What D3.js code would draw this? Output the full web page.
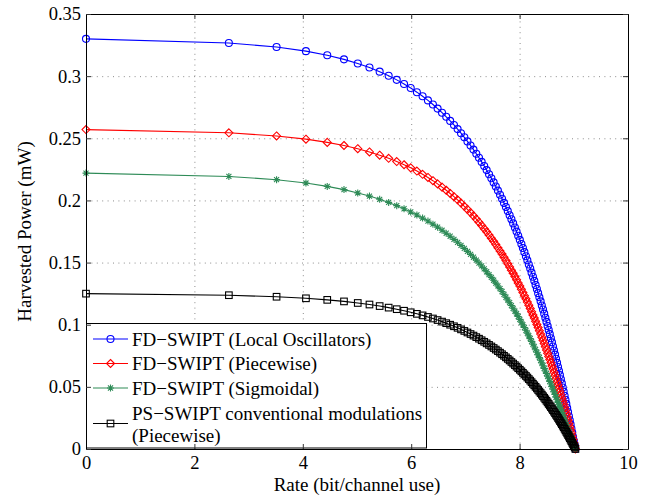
<!DOCTYPE html>
<html>
<head>
<meta charset="utf-8">
<script src="https://cdn.jsdelivr.net/npm/d3@7"></script>
<style>
    body { margin: 0; background: #fff; }
    svg { display: block; }
</style>
</head>
<body>
<div id="chart"></div>
<script>
// Rate axis samples (bit/channel use), shared by all four curves
const rate = [
    0, 2.636, 3.516, 4.058, 4.451, 4.760, 5.014, 5.230, 5.418, 5.584,
    5.733, 5.868, 5.991, 6.105, 6.210, 6.309, 6.401, 6.487, 6.569, 6.646,
    6.719, 6.789, 6.856, 6.919, 6.980, 7.038, 7.095, 7.149, 7.201, 7.251,
    7.300, 7.347, 7.392, 7.436, 7.479, 7.521, 7.561, 7.600, 7.639, 7.676,
    7.712, 7.748, 7.782, 7.816, 7.849, 7.881, 7.913, 7.944, 7.974, 8.004,
    8.033, 8.061, 8.089, 8.117, 8.143, 8.170, 8.196, 8.221, 8.246, 8.271,
    8.295, 8.319, 8.342, 8.365, 8.388, 8.410, 8.432, 8.454, 8.475, 8.496,
    8.517, 8.537, 8.557, 8.577, 8.597, 8.616, 8.635, 8.654, 8.672, 8.691,
    8.709, 8.727, 8.744, 8.762, 8.779, 8.796, 8.813, 8.830, 8.846, 8.862,
    8.878, 8.894, 8.910, 8.926, 8.941, 8.956, 8.971, 8.986, 9.001, 9.016,
    9.030
];

// Harvested power (mW) for each scheme
const powerLocalOsc = [
    0.3300, 0.3267, 0.3234, 0.3201, 0.3168, 0.3135, 0.3102, 0.3069, 0.3036, 0.3003,
    0.2970, 0.2937, 0.2904, 0.2871, 0.2838, 0.2805, 0.2772, 0.2739, 0.2706, 0.2673,
    0.2640, 0.2607, 0.2574, 0.2541, 0.2508, 0.2475, 0.2442, 0.2409, 0.2376, 0.2343,
    0.2310, 0.2277, 0.2244, 0.2211, 0.2178, 0.2145, 0.2112, 0.2079, 0.2046, 0.2013,
    0.1980, 0.1947, 0.1914, 0.1881, 0.1848, 0.1815, 0.1782, 0.1749, 0.1716, 0.1683,
    0.1650, 0.1617, 0.1584, 0.1551, 0.1518, 0.1485, 0.1452, 0.1419, 0.1386, 0.1353,
    0.1320, 0.1287, 0.1254, 0.1221, 0.1188, 0.1155, 0.1122, 0.1089, 0.1056, 0.1023,
    0.0990, 0.0957, 0.0924, 0.0891, 0.0858, 0.0825, 0.0792, 0.0759, 0.0726, 0.0693,
    0.0660, 0.0627, 0.0594, 0.0561, 0.0528, 0.0495, 0.0462, 0.0429, 0.0396, 0.0363,
    0.0330, 0.0297, 0.0264, 0.0231, 0.0198, 0.0165, 0.0132, 0.0099, 0.0066, 0.0033,
    0
];
const powerPiecewise = [
    0.2570, 0.2544, 0.2519, 0.2493, 0.2467, 0.2442, 0.2416, 0.2390, 0.2364, 0.2339,
    0.2313, 0.2287, 0.2262, 0.2236, 0.2210, 0.2185, 0.2159, 0.2133, 0.2107, 0.2082,
    0.2056, 0.2030, 0.2005, 0.1979, 0.1953, 0.1928, 0.1902, 0.1876, 0.1850, 0.1825,
    0.1799, 0.1773, 0.1748, 0.1722, 0.1696, 0.1671, 0.1645, 0.1619, 0.1593, 0.1568,
    0.1542, 0.1516, 0.1491, 0.1465, 0.1439, 0.1414, 0.1388, 0.1362, 0.1336, 0.1311,
    0.1285, 0.1259, 0.1234, 0.1208, 0.1182, 0.1157, 0.1131, 0.1105, 0.1079, 0.1054,
    0.1028, 0.1002, 0.0977, 0.0951, 0.0925, 0.0900, 0.0874, 0.0848, 0.0822, 0.0797,
    0.0771, 0.0745, 0.0720, 0.0694, 0.0668, 0.0643, 0.0617, 0.0591, 0.0565, 0.0540,
    0.0514, 0.0488, 0.0463, 0.0437, 0.0411, 0.0386, 0.0360, 0.0334, 0.0308, 0.0283,
    0.0257, 0.0231, 0.0206, 0.0180, 0.0154, 0.0129, 0.0103, 0.0077, 0.0051, 0.0026,
    0
];
const powerSigmoid = [
    0.2220, 0.2193, 0.2167, 0.2140, 0.2113, 0.2087, 0.2060, 0.2035, 0.2009, 0.1984,
    0.1958, 0.1933, 0.1907, 0.1883, 0.1858, 0.1834, 0.1809, 0.1785, 0.1760, 0.1736,
    0.1712, 0.1687, 0.1663, 0.1638, 0.1614, 0.1590, 0.1566, 0.1543, 0.1520, 0.1496,
    0.1473, 0.1450, 0.1426, 0.1403, 0.1381, 0.1358, 0.1335, 0.1312, 0.1290, 0.1267,
    0.1244, 0.1221, 0.1199, 0.1177, 0.1154, 0.1132, 0.1110, 0.1088, 0.1066, 0.1043,
    0.1021, 0.0999, 0.0977, 0.0955, 0.0932, 0.0910, 0.0888, 0.0866, 0.0844, 0.0821,
    0.0799, 0.0778, 0.0757, 0.0735, 0.0714, 0.0693, 0.0670, 0.0649, 0.0628, 0.0607,
    0.0586, 0.0565, 0.0544, 0.0523, 0.0502, 0.0481, 0.0460, 0.0438, 0.0417, 0.0396,
    0.0375, 0.0355, 0.0335, 0.0315, 0.0295, 0.0275, 0.0255, 0.0235, 0.0215, 0.0195,
    0.0175, 0.0158, 0.0140, 0.0122, 0.0104, 0.0087, 0.0069, 0.0051, 0.0033, 0.0017,
    0
];
const powerConventional = [
    0.12500, 0.12375, 0.12250, 0.12125, 0.12000, 0.11875, 0.11750, 0.11625, 0.11500, 0.11375,
    0.11250, 0.11125, 0.11000, 0.10875, 0.10750, 0.10625, 0.10500, 0.10375, 0.10250, 0.10125,
    0.10000, 0.09875, 0.09750, 0.09625, 0.09500, 0.09375, 0.09250, 0.09125, 0.09000, 0.08875,
    0.08750, 0.08625, 0.08500, 0.08375, 0.08250, 0.08125, 0.08000, 0.07875, 0.07750, 0.07625,
    0.07500, 0.07375, 0.07250, 0.07125, 0.07000, 0.06875, 0.06750, 0.06625, 0.06500, 0.06375,
    0.06250, 0.06125, 0.06000, 0.05875, 0.05750, 0.05625, 0.05500, 0.05375, 0.05250, 0.05125,
    0.05000, 0.04875, 0.04750, 0.04625, 0.04500, 0.04375, 0.04250, 0.04125, 0.04000, 0.03875,
    0.03750, 0.03625, 0.03500, 0.03375, 0.03250, 0.03125, 0.03000, 0.02875, 0.02750, 0.02625,
    0.02500, 0.02375, 0.02250, 0.02125, 0.02000, 0.01875, 0.01750, 0.01625, 0.01500, 0.01375,
    0.01250, 0.01125, 0.01000, 0.00875, 0.00750, 0.00625, 0.00500, 0.00375, 0.00250, 0.00125,
    0
];

const seriesLabels = [
    ["FD\u2212SWIPT (Local Oscillators)"],
    ["FD\u2212SWIPT (Piecewise)"],
    ["FD\u2212SWIPT (Sigmoidal)"],
    ["PS\u2212SWIPT conventional modulations", "(Piecewise)"]
];
const seriesColors = ["#0000ff", "#ff0000", "#2e8b57", "#000000"];
const seriesMarkers = ["circle", "diamond", "asterisk", "square"];
const seriesValues = [powerLocalOsc, powerPiecewise, powerSigmoid, powerConventional];

const xTicks = [0, 2, 4, 6, 8, 10];
const yTicks = [0, 0.05, 0.1, 0.15, 0.2, 0.25, 0.3, 0.35];
const yTickLabels = ["0", "0.05", "0.1", "0.15", "0.2", "0.25", "0.3", "0.35"];

const width = 654;
const height = 497;
const plot = { left: 86, top: 14, right: 628, bottom: 449 };
const serif = "\"Liberation Serif\", \"DejaVu Serif\", serif";
const fontSize = 19;
const tickFontSize = 18.5;

const svg = d3.select("#chart").append("svg")
    .attr("width", width)
    .attr("height", height);

const x = d3.scaleLinear().domain([0, 10]).range([plot.left, plot.right]);
const y = d3.scaleLinear().domain([0, 0.35]).range([plot.bottom, plot.top]);
const plotW = plot.right - plot.left;
const plotH = plot.bottom - plot.top;

// Dotted grid
const gridX = svg.append("g")
    .attr("transform", `translate(0,${plot.bottom})`)
    .call(d3.axisBottom(x).tickValues(xTicks).tickSize(-plotH).tickFormat(""));
const gridY = svg.append("g")
    .attr("transform", `translate(${plot.left},0)`)
    .call(d3.axisLeft(y).tickValues(yTicks).tickSize(-plotW).tickFormat(""));
[gridX, gridY].forEach(g => {
    g.select(".domain").remove();
    g.selectAll("line")
        .attr("stroke", "#8c8c8c")
        .attr("stroke-dasharray", "1,4.4");
});

// Marker drawing
function drawMarker(sel, type, color) {
    const s = 3.5;
    if (type === "circle") {
        sel.append("circle").attr("r", 3.5);
    } else if (type === "diamond") {
        sel.append("path").attr("d", `M0,${-s - 0.5}L${s + 0.5},0L0,${s + 0.5}L${-s - 0.5},0Z`);
    } else if (type === "square") {
        sel.append("rect").attr("x", -s + 0.2).attr("y", -s + 0.2)
            .attr("width", 2 * s - 0.4).attr("height", 2 * s - 0.4);
    } else {
        const d = s * 0.72;
        sel.append("path")
            .attr("d", `M${-s},0H${s}M0,${-s}V${s}M${-d},${-d}L${d},${d}M${-d},${d}L${d},${-d}`);
    }
    sel.selectAll("*")
        .attr("fill", "none")
        .attr("stroke", color)
        .attr("stroke-width", 1.1);
}

// Curves with markers
const line = d3.line()
    .x(d => x(d[0]))
    .y(d => y(d[1]));

seriesValues.forEach((vals, i) => {
    const pts = rate.map((r, j) => [r, vals[j]]);
    svg.append("path")
        .datum(pts)
        .attr("fill", "none")
        .attr("stroke", seriesColors[i])
        .attr("stroke-width", 1.1)
        .attr("d", line);

    svg.append("g").selectAll("g")
        .data(pts)
        .enter()
        .append("g")
        .attr("transform", d => `translate(${x(d[0])},${y(d[1])})`)
        .each(function () { drawMarker(d3.select(this), seriesMarkers[i], seriesColors[i]); });
});

// Legend
const legend = svg.append("g");
legend.append("rect")
    .attr("x", plot.left + 0.5)
    .attr("y", 323.5)
    .attr("width", 340)
    .attr("height", 124.5)
    .attr("fill", "#fff")
    .attr("stroke", "#000")
    .attr("stroke-width", 1);

const rowTextY = [339, 363.5, 388, 413];
seriesLabels.forEach((lab, i) => {
    const symY = lab.length > 1 ? rowTextY[i] + 10.5 : rowTextY[i];
    legend.append("line")
        .attr("x1", 93).attr("x2", 128)
        .attr("y1", symY).attr("y2", symY)
        .attr("stroke", seriesColors[i])
        .attr("stroke-width", 1.1);
    drawMarker(legend.append("g").attr("transform", `translate(110.5,${symY})`),
        seriesMarkers[i], seriesColors[i]);
    const t = legend.append("text")
        .attr("x", 132)
        .attr("y", rowTextY[i])
        .style("font-family", serif)
        .style("font-size", fontSize + "px")
        .attr("fill", "#000");
    lab.forEach((s, k) => {
        t.append("tspan")
            .attr("x", 132)
            .attr("dy", k === 0 ? "0.35em" : 22)
            .text(s);
    });
});

// Axes box with inward ticks
const axBottom = svg.append("g")
    .attr("transform", `translate(0,${plot.bottom})`)
    .call(d3.axisBottom(x).tickValues(xTicks).tickSizeInner(-5).tickSizeOuter(0).tickPadding(7));
const axTop = svg.append("g")
    .attr("transform", `translate(0,${plot.top})`)
    .call(d3.axisTop(x).tickValues(xTicks).tickSizeInner(-5).tickSizeOuter(0).tickFormat(""));
const axLeft = svg.append("g")
    .attr("transform", `translate(${plot.left},0)`)
    .call(d3.axisLeft(y).tickValues(yTicks).tickSizeInner(-5).tickSizeOuter(0).tickPadding(5)
        .tickFormat((d, i) => yTickLabels[i]));
const axRight = svg.append("g")
    .attr("transform", `translate(${plot.right},0)`)
    .call(d3.axisRight(y).tickValues(yTicks).tickSizeInner(-5).tickSizeOuter(0).tickFormat(""));

[axBottom, axTop, axLeft, axRight].forEach(g => {
    g.attr("font-family", null).attr("font-size", null);
    g.select(".domain").attr("stroke", "#000").attr("stroke-width", 1);
    g.selectAll(".tick line").attr("stroke", "#333");
    g.selectAll(".tick text")
        .attr("fill", "#000")
        .style("font-family", serif)
        .style("font-size", tickFontSize + "px");
});

// Axis titles
svg.append("text")
    .attr("x", (plot.left + plot.right) / 2)
    .attr("y", 491)
    .attr("text-anchor", "middle")
    .style("font-family", serif)
    .style("font-size", fontSize + "px")
    .text("Rate (bit/channel use)");

svg.append("text")
    .attr("transform", `translate(31,${(plot.top + plot.bottom) / 2}) rotate(-90)`)
    .attr("text-anchor", "middle")
    .style("font-family", serif)
    .style("font-size", fontSize + "px")
    .text("Harvested Power (mW)");
</script>
</body>
</html>
